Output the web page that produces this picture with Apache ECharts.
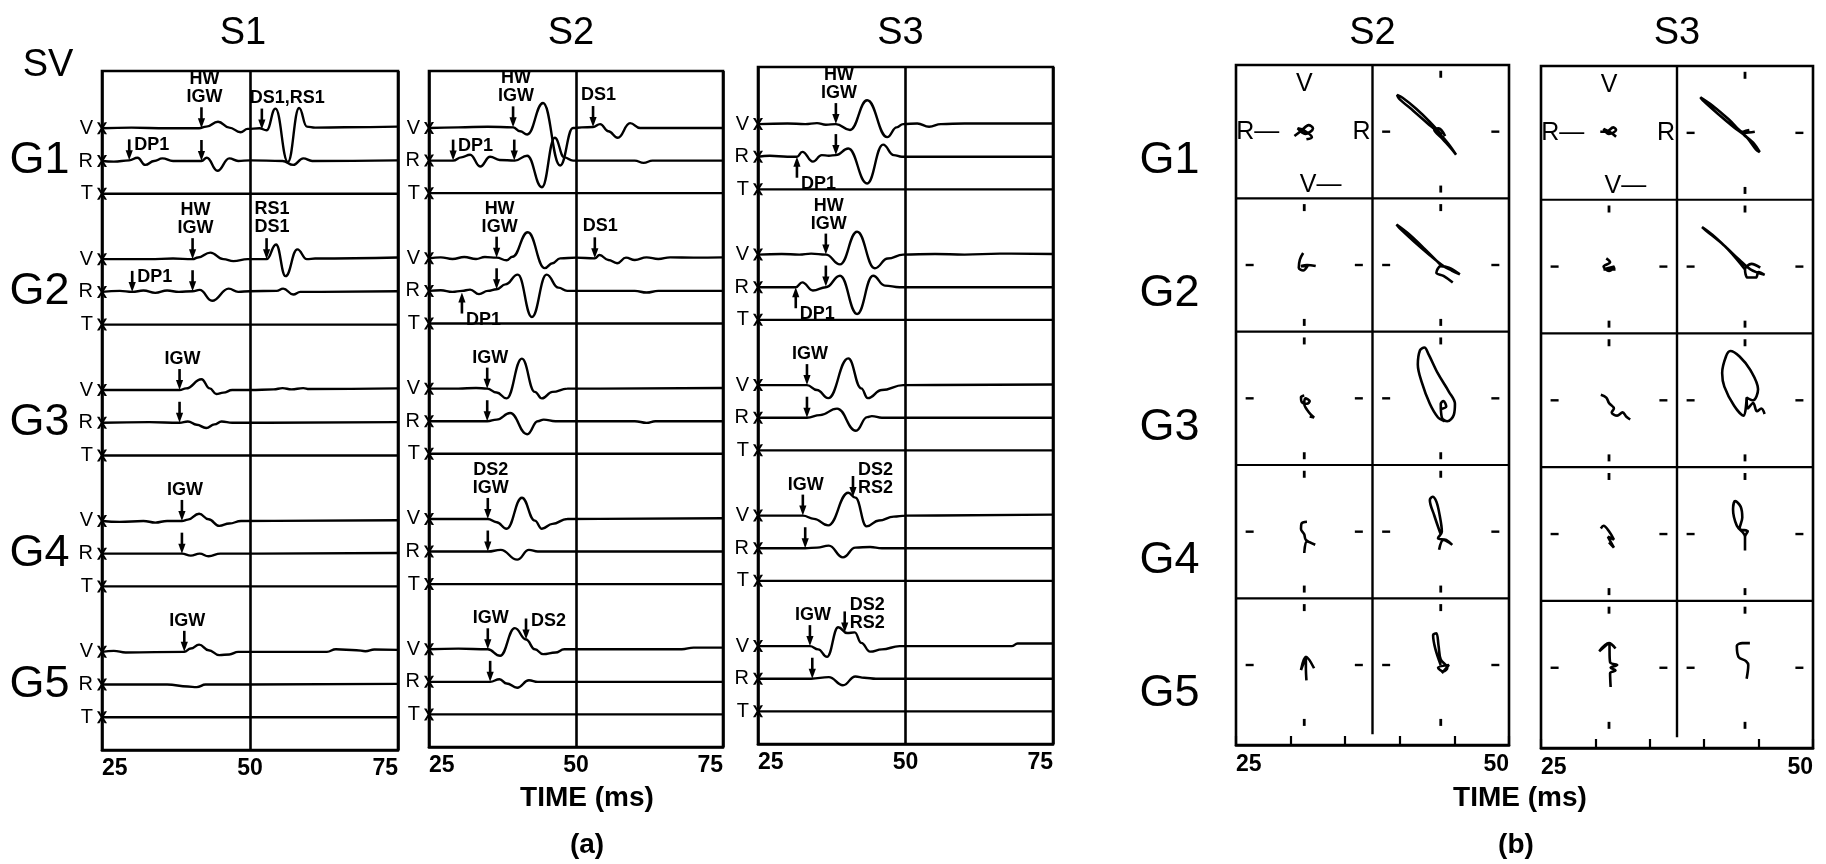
<!DOCTYPE html>
<html><head><meta charset="utf-8">
<script src="https://cdn.jsdelivr.net/npm/echarts@6/dist/echarts.min.js"></script>
<style>html,body{margin:0;padding:0;background:#fff}#c{width:1826px;height:864px}</style>
</head><body><div id="c"></div>
<script>
// ---------------- DATA ----------------
const shotsA = ['S1', 'S2', 'S3'];
const shotsB = ['S2', 'S3'];
const gauges = ['G1', 'G2', 'G3', 'G4', 'G5'];
const comps = ['V', 'R', 'T'];
const timeTicksA = [25, 50, 75];
const timeTicksB = [25, 30, 35, 40, 45, 50];
const timeLabelsB = [25, 50];

// Seismograms: [time (ms), amplitude in trace spacings]
const S1_G1_V = [[25,0],[30,0.02],[36,0],[41.4,0],[42.6,0.05],[44.6,0.2],[46.5,0.02],[48.4,-0.12],[49.6,-0.02],[51.6,0],[52.8,-0.06],[54.3,0.6],[56.4,-1.03],[58.3,0.62],[59.6,0.05],[61,0.02],[66,0.03],[75,0.05]];
const S1_G1_R = [[25,0],[27,-0.02],[29.6,0.02],[31,0.1],[32.3,-0.12],[33.8,0],[35.2,0.08],[37,0],[41.8,0],[42.7,0.1],[44.5,-0.3],[46.5,0.08],[48,0],[50,0.02],[55.5,0],[57.3,-0.12],[59,0.08],[60.5,0],[75,0.02]];
const S1_G1_T = [[25,0],[75,0]];
const S1_G2_V = [[25,0],[33,0],[37,0.02],[40.3,0],[41.2,0.05],[43.3,0.2],[45.5,0],[47.2,-0.06],[49.6,0],[52.8,0],[54.4,0.45],[56,-0.52],[58,0.3],[59.6,0],[61,0.02],[75,0.05]];
const S1_G2_R = [[25,0],[28,0.03],[30.1,0],[32,0.04],[34,-0.03],[36,0.04],[38,0],[40.3,0.02],[41.5,0.06],[43.6,-0.27],[46.4,0.1],[48,0],[50,0.02],[54.5,0.03],[55.6,0.1],[57.3,-0.08],[58.5,0],[75,0.02]];
const S1_G2_T = [[25,0],[75,0]];
const S1_G3_V = [[25,0],[35,0],[38.1,0],[39.2,0.05],[41.8,0.33],[43.2,0.05],[44.3,-0.12],[45.5,-0.08],[47,0],[50,0],[54,0.02],[55.5,0.06],[57,0.02],[59,0.06],[60,0.03],[75,0.05]];
const S1_G3_R = [[25,0],[33,0.02],[38.1,0],[39.5,0.04],[41,-0.06],[42.6,-0.16],[44,-0.05],[45.2,0.04],[47,0],[75,0.02]];
const S1_G3_T = [[25,0],[75,0]];
const S1_G4_V = [[25,0],[28,-0.03],[32,0],[34,-0.05],[36,0],[38.5,0],[39.5,0.04],[41.4,0.22],[43,0.05],[44.8,-0.15],[46.5,-0.08],[48.5,0],[75,0.02]];
const S1_G4_R = [[25,0],[35,0],[38.5,0],[40,-0.06],[41.5,0],[43,-0.08],[45,0],[75,0.02]];
const S1_G4_T = [[25,0],[75,0]];
const S1_G5_V = [[25,0],[27,0.03],[29,-0.02],[38.9,0],[40,0.1],[41.4,0.22],[43,0.05],[44.8,-0.1],[46.5,-0.08],[48,0],[63,0],[64.5,0.08],[68,0.05],[69.5,0.02],[71,0.07],[75,0.06]];
const S1_G5_R = [[25,0],[36,0],[39.5,-0.06],[41,-0.08],[42.5,0],[75,0.02]];
const S1_G5_T = [[25,0],[75,0]];

const S2_G1_V = [[25,0],[30,0.02],[35,0.04],[39.3,0.02],[40.5,-0.1],[41.7,-0.2],[44.4,0.77],[47.3,-1.15],[49.5,0],[51,0.02],[52.9,0.03],[54.1,0.12],[55.5,-0.1],[57.1,-0.3],[59.2,0.15],[60.9,0],[75,0]];
const S2_G1_R = [[25,0],[27.5,0],[29.1,0],[30.5,0.1],[32,0.18],[33.7,-0.18],[35.4,0.12],[37,0.02],[39.6,0],[41.7,0.15],[44.2,-0.82],[46.4,0.7],[48,0.1],[49.5,0],[60,0],[61.5,-0.07],[63,0],[75,0]];
const S2_G1_T = [[25,0],[75,0]];
const S2_G2_V = [[25,0],[27,0.03],[29,-0.02],[31,0.04],[33,-0.02],[34.5,0.04],[36.5,0.02],[38.2,-0.06],[39.2,0.05],[41.8,0.8],[44.7,-0.3],[46,-0.15],[47.3,0],[50,0.02],[53.2,0],[54,0.1],[55.5,-0.05],[57,-0.15],[58.5,0.02],[60,-0.05],[62,0.03],[64,-0.02],[66,0.03],[70,0.02],[75,0.03]];
const S2_G2_R = [[25,0],[27,0.02],[29,-0.03],[30.6,0],[32,0.04],[33.5,-0.1],[35,0],[36.5,0.05],[38,0.2],[40.1,0.5],[42.5,-0.8],[45,0.5],[47,0.1],[48.5,0],[60,0],[62,-0.05],[64,0],[75,0]];
const S2_G2_T = [[25,0],[75,0]];
const S2_G3_V = [[25,0],[30,0],[33,0.02],[34.9,0],[36.5,-0.12],[38.2,-0.3],[40.8,0.92],[43,-0.1],[44.2,-0.3],[46,-0.1],[48.5,0],[75,0.02]];
const S2_G3_R = [[25,0],[34.9,0],[36.5,0.05],[38.8,0.25],[41.7,-0.4],[43.5,0],[44.5,0.05],[46.5,0],[60,0],[62,-0.05],[63.5,0],[75,0]];
const S2_G3_T = [[25,0],[75,0]];
const S2_G4_V = [[25,0],[30,0],[35,0],[36.5,-0.1],[38.2,-0.3],[40.8,0.65],[43,-0.05],[44.2,-0.3],[46,-0.15],[48.5,0],[75,0.02]];
const S2_G4_R = [[25,0],[35,0],[37.2,0.05],[40,-0.25],[42,0.05],[43.5,0],[75,0]];
const S2_G4_T = [[25,0],[75,0]];
const S2_G5_V = [[25,0],[30,0.02],[35,0],[37.1,-0.2],[39.6,0.65],[41.5,0.3],[43,0],[44.4,-0.15],[46.5,-0.1],[48,0],[68,0],[70,0.05],[75,0.05]];
const S2_G5_R = [[25,0],[35.4,0],[37,0.08],[38.2,-0.05],[40,-0.18],[42,0.05],[43.5,0],[75,0]];
const S2_G5_T = [[25,0],[75,0]];

const S3_G1_V = [[25,0],[30,0.02],[33,0],[35,0.03],[36.5,-0.02],[38.2,0],[40.6,-0.18],[43.5,0.73],[46.9,-0.4],[48.5,-0.1],[49.6,0],[52,0.02],[54,-0.08],[56,0],[60,0.02],[75,0.02]];
const S3_G1_R = [[25,0],[27,0.03],[30,0],[31.6,0],[32.5,0.15],[34.3,-0.15],[35.8,0.05],[37,0.03],[38.2,0.05],[40.3,0.25],[43.5,-0.82],[46.2,0.37],[48,0.05],[49.4,0],[75,0]];
const S3_G1_T = [[25,0],[75,0]];
const S3_G2_V = [[25,0],[29,0.02],[32,0],[34,0.03],[36.5,0],[38.9,-0.3],[41.8,0.7],[44.8,-0.42],[47,-0.12],[49.6,0],[55,0.02],[60,0],[66,0.03],[75,0.02]];
const S3_G2_R = [[25,0],[28,0],[31.4,0],[32.5,0.15],[34.3,-0.1],[36.5,0],[38.9,0.35],[41.8,-0.82],[44.5,0.35],[46.5,0.05],[49,0],[75,0]];
const S3_G2_T = [[25,0],[75,0]];
const S3_G3_V = [[25,0],[30,0],[33.3,0],[35,-0.15],[36.9,-0.4],[40.3,0.82],[42.5,-0.1],[43.6,-0.4],[46,-0.15],[49.6,0],[75,0.02]];
const S3_G3_R = [[25,0],[33.3,0],[35.5,0.08],[38.4,0.28],[41.6,-0.4],[43.5,0.02],[44.3,0.05],[46,0],[75,0]];
const S3_G3_T = [[25,0],[75,0]];
const S3_G4_V = [[25,0],[29,0],[32.6,0],[34.5,-0.1],[36.9,-0.3],[40.3,0.7],[41.5,0.55],[43.4,-0.33],[45.5,-0.15],[48,-0.03],[50,0],[75,0.03]];
const S3_G4_R = [[25,0],[33,0],[35,0.02],[37,0.08],[39.4,-0.28],[41.5,0.02],[44,0.04],[46,0],[75,0]];
const S3_G4_T = [[25,0],[75,0]];
const S3_G5_V = [[25,0],[30,0],[33.8,0],[35.2,-0.1],[36.7,-0.33],[38.6,0.58],[40.1,0.4],[41.4,0.42],[42.5,0.1],[44,-0.17],[46,-0.1],[49,0],[68,0],[69,0.08],[75,0.08]];
const S3_G5_R = [[25,0],[34,0],[37,0.05],[39.4,-0.2],[41.5,0.07],[43,0.03],[45,0],[75,0]];
const S3_G5_T = [[25,0],[75,0]];

// Arrival picks: [shot, gauge, component, time ms, trace value at tip, label, label placement]
const picksS1 = [
  [0,0,0,41.8,0.0,'HW\nIGW','top'],[0,0,0,52.0,-0.04,'DS1,RS1','topright'],
  [0,0,1,29.6,0.02,'DP1','right'],[0,0,1,41.8,0.0,'',''],
  [0,1,0,40.3,0.0,'HW\nIGW','top'],[0,1,0,52.8,0.0,'RS1\nDS1','topright'],
  [0,1,1,30.1,0.0,'DP1','right'],[0,1,1,40.3,0.02,'',''],
  [0,2,0,38.1,0.0,'IGW','top'],[0,2,1,38.1,0.0,'',''],
  [0,3,0,38.5,0.0,'IGW','top'],[0,3,1,38.5,0.0,'',''],
  [0,4,0,38.9,0.0,'IGW','top']
];
const picksS2 = [
  [1,0,0,39.3,0.02,'HW\nIGW','top'],[1,0,0,52.9,0.03,'DS1','topright'],
  [1,0,1,29.1,0.0,'DP1','right'],[1,0,1,39.5,0.0,'',''],
  [1,1,0,36.5,0.02,'HW\nIGW','top'],[1,1,0,53.2,0.0,'DS1','topright'],
  [1,1,1,36.5,0.05,'',''],[1,1,1,30.6,-0.05,'DP1','upright'],
  [1,2,0,34.9,0.0,'IGW','top'],[1,2,1,34.9,0.0,'',''],
  [1,3,0,35.0,0.0,'DS2\nIGW','top'],[1,3,1,35.0,0.0,'',''],
  [1,4,0,35.0,0.0,'IGW','top'],[1,4,0,41.5,0.3,'DS2','rightmid'],[1,4,1,35.4,0.0,'','']
];
const picksS3 = [
  [2,0,0,38.2,0.0,'HW\nIGW','top'],[2,0,1,38.2,0.05,'',''],[2,0,1,31.6,0.0,'DP1','upright'],
  [2,1,0,36.5,0.0,'HW\nIGW','top'],[2,1,1,36.5,0.02,'',''],[2,1,1,31.4,0.0,'DP1','upright'],
  [2,2,0,33.3,0.0,'IGW','top'],[2,2,1,33.3,0.0,'',''],
  [2,3,0,32.6,0.0,'IGW','top'],[2,3,0,41.1,0.57,'DS2\nRS2','rightmid'],[2,3,1,33.0,0.0,'',''],
  [2,4,0,33.8,0.0,'IGW','top'],[2,4,0,39.7,0.42,'DS2\nRS2','rightmid'],[2,4,1,34.2,0.0,'','']
];

// Hodograms (R horizontal, V vertical), unit = distance of the cell's tick marks
const HS2_G1_L = [[-0.18,-0.08],[-0.05,0.02],[0.08,0.12],[0.16,0.06],[0.02,-0.04],[-0.12,0.06],[0,0.02],[0.14,-0.1],[0.04,-0.14]];
const HS2_G1_R = [[0.02,-0.06],[-0.2,0.18],[-0.45,0.42],[-0.7,0.62],[-0.8,0.67],[-0.76,0.6],[-0.5,0.38],[-0.25,0.16],[-0.02,-0.04],[0.14,-0.22],[0.28,-0.42],[0.2,-0.32],[0.04,-0.14],[-0.12,0.04],[-0.04,0.06],[0.08,-0.08]];
const HS2_G2_L = [[-0.02,0.22],[-0.08,0.1],[-0.1,-0.05],[-0.02,-0.1],[0.06,-0.02],[-0.06,-0.02],[0.05,0],[0.21,-0.02]];
const HS2_G2_R = [[0,0],[-0.3,0.3],[-0.6,0.58],[-0.81,0.74],[-0.76,0.68],[-0.5,0.44],[-0.2,0.18],[0.05,-0.02],[0.2,-0.1],[0.35,-0.17],[0.15,-0.05],[0,-0.02],[-0.08,-0.14],[0.05,-0.2],[0.22,-0.32]];
const HS2_G3_L = [[0,0.05],[-0.06,0.02],[-0.05,-0.06],[0.05,-0.1],[0.1,-0.05],[0.02,0],[0,-0.1],[0.08,-0.25],[0.18,-0.35],[0.1,-0.33]];
const HS2_G3_R = [[0.07,-0.42],[-0.05,-0.35],[-0.2,-0.1],[-0.35,0.3],[-0.42,0.62],[-0.38,0.88],[-0.3,0.93],[-0.22,0.8],[-0.05,0.45],[0.15,0.12],[0.26,-0.1],[0.24,-0.3],[0.12,-0.42],[0.02,-0.35],[0,-0.1],[0.05,-0.05],[0.1,-0.15],[-0.02,-0.2]];
const HS2_G4_L = [[0.05,0.18],[-0.05,0.15],[-0.06,0.05],[0,-0.05],[0.03,-0.15],[0.2,-0.24],[0.05,-0.18],[0,-0.39]];
const HS2_G4_R = [[0,-0.05],[-0.12,0.3],[-0.2,0.58],[-0.15,0.64],[-0.08,0.55],[-0.02,0.3],[0.02,0],[-0.05,-0.12],[0.1,-0.15],[0.21,-0.24],[0.05,-0.15],[-0.03,-0.33]];
const HS2_G5_L = [[0.04,-0.28],[0.03,-0.05],[0.03,0.15],[-0.06,-0.09],[0.03,0.15],[0.18,-0.06]];
const HS2_G5_R = [[0,0],[-0.1,0.3],[-0.14,0.55],[-0.08,0.58],[-0.04,0.35],[0,0.1],[0.12,-0.05],[0.05,-0.12],[-0.05,-0.05],[0.15,0],[0.02,-0.15]];
const HS3_G1_L = [[-0.16,0.02],[-0.05,0.02],[0.08,0.1],[0.13,0.05],[0,-0.02],[-0.1,0.07],[0.04,0],[0.13,-0.07]];
const HS3_G1_R = [[0.18,0.02],[0,0],[-0.3,0.25],[-0.6,0.5],[-0.82,0.65],[-0.78,0.6],[-0.5,0.35],[-0.2,0.1],[0,-0.05],[0.15,-0.18],[0.27,-0.35],[0.2,-0.3],[0.05,-0.1],[-0.05,0],[0.08,0.05]];
const HS3_G2_L = [[-0.05,0.15],[0.02,0.08],[-0.1,0],[0,-0.08],[0.1,0],[-0.1,-0.05],[0.12,-0.05]];
const HS3_G2_R = [[0,-0.05],[-0.3,0.3],[-0.6,0.58],[-0.79,0.72],[-0.72,0.66],[-0.4,0.4],[-0.1,0.12],[0.1,-0.05],[0.36,-0.15],[0.25,-0.1],[0.2,-0.2],[0.05,-0.2],[0,-0.05],[0.12,0.05],[0.28,-0.02]];
const HS3_G3_L = [[-0.15,0.1],[-0.05,0.05],[0,-0.05],[0.09,-0.15],[0.05,-0.22],[0.15,-0.28],[0.25,-0.22],[0.32,-0.3],[0.39,-0.35]];
const HS3_G3_R = [[0.03,0.05],[-0.03,-0.28],[-0.2,-0.1],[-0.38,0.25],[-0.42,0.5],[-0.35,0.8],[-0.27,0.9],[-0.1,0.8],[0.1,0.55],[0.24,0.2],[0.15,0],[0.03,0.05],[0.05,-0.15],[0.15,-0.05],[0.22,-0.2],[0.3,-0.15],[0.36,-0.25]];
const HS3_G4_L = [[-0.15,0.1],[-0.1,0.15],[0,0.05],[0.09,-0.1],[-0.02,-0.05],[0.09,-0.25],[0,-0.15]];
const HS3_G4_R = [[0,-0.3],[0,-0.05],[-0.15,0.15],[-0.22,0.45],[-0.18,0.6],[-0.08,0.5],[-0.05,0.3],[-0.1,0.1],[0.05,0.05],[0,-0.05],[0,-0.3]];
const HS3_G5_L = [[0.03,-0.35],[0.02,-0.1],[0.12,-0.05],[0.03,0],[0.15,0.05],[0.02,0.1],[0,0.45],[-0.18,0.3],[0,0.45],[0.12,0.35]];
const HS3_G5_R = [[0.09,0.45],[-0.05,0.45],[-0.15,0.4],[-0.12,0.2],[0.02,0.12],[0.06,0.05],[0.03,-0.2]];

// ---------------- BUILD ----------------
const TRACES = [
  [[S1_G1_V,S1_G1_R,S1_G1_T],[S1_G2_V,S1_G2_R,S1_G2_T],[S1_G3_V,S1_G3_R,S1_G3_T],[S1_G4_V,S1_G4_R,S1_G4_T],[S1_G5_V,S1_G5_R,S1_G5_T]],
  [[S2_G1_V,S2_G1_R,S2_G1_T],[S2_G2_V,S2_G2_R,S2_G2_T],[S2_G3_V,S2_G3_R,S2_G3_T],[S2_G4_V,S2_G4_R,S2_G4_T],[S2_G5_V,S2_G5_R,S2_G5_T]],
  [[S3_G1_V,S3_G1_R,S3_G1_T],[S3_G2_V,S3_G2_R,S3_G2_T],[S3_G3_V,S3_G3_R,S3_G3_T],[S3_G4_V,S3_G4_R,S3_G4_T],[S3_G5_V,S3_G5_R,S3_G5_T]]
];
const HODO = [
  [[HS2_G1_L,HS2_G1_R],[HS2_G2_L,HS2_G2_R],[HS2_G3_L,HS2_G3_R],[HS2_G4_L,HS2_G4_R],[HS2_G5_L,HS2_G5_R]],
  [[HS3_G1_L,HS3_G1_R],[HS3_G2_L,HS3_G2_R],[HS3_G3_L,HS3_G3_R],[HS3_G4_L,HS3_G4_R],[HS3_G5_L,HS3_G5_R]]
];
const PICKS = [picksS1, picksS2, picksS3];

const FONT = "'Liberation Sans', Arial, Helvetica, sans-serif";
const INK = '#000';
const base = (g, c) => -(1.75 + 4 * g + c);      // trace baseline in panel (a)
const cellX = [31.25, 43.75];                        // hodogram cell centres (ms)
const cellY = g => -(g + 0.5);                       // hodogram row centres
const HX = 5, HY = 0.41;                             // hodogram unit in axis units

const gridA = [
  {left:102, top:71, width:296, height:679},
  {left:429, top:71, width:294, height:676},
  {left:758, top:67, width:295, height:677}
];
const gridB = [
  {left:1236, top:65, width:273, height:680},
  {left:1541, top:66, width:272, height:682}
];
const grids = gridA.concat(gridB).map(g => Object.assign({show:true, borderColor:INK, borderWidth:2.6, backgroundColor:'transparent', containLabel:false}, g));

const labelFont = {color:INK, fontFamily:FONT, fontWeight:'bold', fontSize:23};
const xAxes = [], yAxes = [];
gridA.forEach((g, i) => {
  xAxes.push({type:'value', gridIndex:i, position:'bottom', min:timeTicksA[0], max:timeTicksA[2], interval:timeTicksA[1]-timeTicksA[0],
    axisLine:{show:true, onZero:false, lineStyle:{color:INK, width:2.6}}, axisTick:{show:false},
    splitLine:{show:true, lineStyle:{color:INK, width:2.6}},
    axisLabel:Object.assign({margin:7, alignMinLabel:'left', alignMaxLabel:'right'}, labelFont)});
  yAxes.push({type:'value', gridIndex:i, min:-20.75, max:0, show:false});
});
gridB.forEach((g, j) => {
  xAxes.push({type:'value', gridIndex:3+j, position:'bottom', min:timeTicksB[0], max:timeTicksB[timeTicksB.length-1], interval:timeTicksB[1]-timeTicksB[0],
    axisLine:{show:true, onZero:false, lineStyle:{color:INK, width:2.6}},
    axisTick:{show:true, inside:true, length:9, lineStyle:{color:INK, width:2.2}},
    splitLine:{show:false},
    axisLabel:Object.assign({margin:8, alignMinLabel:'left', alignMaxLabel:'right',
      formatter: v => timeLabelsB.indexOf(v) >= 0 ? String(v) : ''}, labelFont)});
  yAxes.push({type:'value', gridIndex:3+j, min:-5.1, max:0, show:false});
});

const series = [];
const lineBase = {type:'line', symbol:'none', silent:true, animation:false, smooth:0.45, smoothMonotone:'x', z:3,
  lineStyle:{color:INK, width:2.4}};
const hidden = {color:'rgba(0,0,0,0)', opacity:1};
const txtLabel = (size, extra) => Object.assign({show:true, formatter:p => p.name, color:INK, opacity:1, fontFamily:FONT, fontSize:size}, extra);

// Panel (a) traces
TRACES.forEach((shot, s) => shot.forEach((gauge, g) => gauge.forEach((tr, c) => {
  series.push(Object.assign({}, lineBase, {xAxisIndex:s, yAxisIndex:s,
    data: tr.map(p => [p[0], base(g, c) + p[1]])}));
})));

// Panel (a) start markers + component labels
const XSYM = 'path://M0,0L2.4,0L5,4L7.6,0L10,0L6.3,5.5L10,11L7.6,11L5,7L2.4,11L0,11L3.7,5.5Z';
shotsA.forEach((name, s) => {
  const pts = [];
  gauges.forEach((gn, g) => comps.forEach((cn, c) => pts.push({value:[timeTicksA[0], base(g, c)], name:cn})));
  series.push({type:'scatter', xAxisIndex:s, yAxisIndex:s, data:pts, symbol:XSYM, symbolSize:[10, 12],
    itemStyle:{color:INK, opacity:1}, clip:false, silent:true, animation:false, z:6,
    label:txtLabel(20, {position:'left', distance:4})});
});
// Gauge labels on the left of panel (a)
series.push({type:'scatter', xAxisIndex:0, yAxisIndex:0, symbol:'circle', symbolSize:1, itemStyle:hidden,
  data: gauges.map((gn, g) => ({value:[timeTicksA[0], base(g, 1)], name:gn})), clip:false, silent:true, animation:false,
  label:txtLabel(45, {position:'left', distance:32})});

// Arrival arrows
PICKS.forEach((list, s) => {
  series.push({type:'custom', xAxisIndex:s, yAxisIndex:s, clip:false, silent:true, animation:false, z:7,
    data: list.map(a => [a[3], base(a[1], a[2]) + a[4]]),
    renderItem: (params, api) => {
      const a = list[params.dataIndex];
      const tip = api.coord([api.value(0), api.value(1)]);
      const tx = tip[0], ty = tip[1];
      const up = a[6] === 'upright';
      const L = 21, hh = 10, hw = 3.6;
      const d = up ? -1 : 1;
      const tail = ty - d * L;
      const ch = [
        {type:'line', shape:{x1:tx, y1:tail, x2:tx, y2:ty - d * hh * 0.7}, style:{stroke:INK, lineWidth:2.6}},
        {type:'polygon', shape:{points:[[tx - hw, ty - d * hh], [tx + hw, ty - d * hh], [tx, ty]]}, style:{fill:INK}}
      ];
      if (a[5]) {
        let x, y, al, va;
        if (a[6] === 'top') { x = tx + 3; y = tail - 1; al = 'center'; va = 'bottom'; }
        else if (a[6] === 'topright') { x = tx - 12; y = tail - 2; al = 'left'; va = 'bottom'; }
        else if (a[6] === 'right') { x = tx + 5; y = tail + 6; al = 'left'; va = 'middle'; }
        else if (a[6] === 'rightmid') { x = tx + 5; y = tail + 3; al = 'left'; va = 'middle'; }
        else { x = tx + 4; y = tail + 6; al = 'left'; va = 'middle'; }
        ch.push({type:'text', style:{text:a[5], x:x, y:y, fill:INK, font:'bold 18px ' + FONT,
          align:al, verticalAlign:va, textAlign:al, textVerticalAlign:va, lineHeight:18}});
      }
      return {type:'group', children:ch};
    }});
});

// Panel (b): frame lines, dashes, hodograms
const rowBounds = [-1, -2, -3, -4];
const divider = 37.5;
shotsB.forEach((name, j) => {
  const ax = 3 + j;
  rowBounds.forEach(y => series.push({type:'line', xAxisIndex:ax, yAxisIndex:ax, symbol:'none', silent:true, animation:false,
    data:[[timeTicksB[0], y], [timeTicksB[timeTicksB.length-1], y]], lineStyle:{color:INK, width:2.2}}));
  series.push({type:'line', xAxisIndex:ax, yAxisIndex:ax, symbol:'none', silent:true, animation:false,
    data:[[divider, -5.02], [divider, 0]], lineStyle:{color:INK, width:2.4}});
  const vd = [], hd = [];
  gauges.forEach((gn, g) => cellX.forEach((cx, k) => {
    if (g === 0 && k === 0) return;
    vd.push([cx, cellY(g) + 1.05 * HY], [cx, cellY(g) - 1.05 * HY]);
    hd.push([cx - HX, cellY(g)], [cx + HX, cellY(g)]);
  }));
  series.push({type:'scatter', xAxisIndex:ax, yAxisIndex:ax, data:vd, symbol:'rect', symbolSize:[2.8, 7], itemStyle:{color:INK, opacity:1}, silent:true, animation:false});
  series.push({type:'scatter', xAxisIndex:ax, yAxisIndex:ax, data:hd, symbol:'rect', symbolSize:[8, 2.4], itemStyle:{color:INK, opacity:1}, silent:true, animation:false});
  // axis naming marks in the G1 left cell
  const cx0 = cellX[0], cy0 = cellY(0);
  series.push({type:'scatter', xAxisIndex:ax, yAxisIndex:ax, symbol:'circle', symbolSize:1, itemStyle:hidden,
    silent:true, animation:false, clip:false,
    data:[{value:[cx0, cy0 + 0.87 * HY], name:'V'}, {value:[cx0 + 0.3 * HX, cy0 - 0.98 * HY], name:'V—'},
          {value:[cx0 - 0.85 * HX, cy0], name:'R—'}, {value:[cx0 + 1.05 * HX, cy0], name:'R'}],
    label:txtLabel(25, {position:'inside'})});
  HODO[j].forEach((cells, g) => cells.forEach((h, k) => {
    series.push(Object.assign({}, lineBase, {xAxisIndex:ax, yAxisIndex:ax, smooth:0.35, smoothMonotone:null,
      lineStyle:{color:INK, width:2.6},
      data: h.map(p => [cellX[k] + p[0] * HX, cellY(g) + p[1] * HY])}));
  }));
});
// Gauge labels on the left of panel (b)
series.push({type:'scatter', xAxisIndex:3, yAxisIndex:3, symbol:'circle', symbolSize:1, itemStyle:hidden,
  data: gauges.map((gn, g) => ({value:[timeTicksB[0], cellY(g)], name:gn})), clip:false, silent:true, animation:false,
  label:txtLabel(45, {position:'left', distance:36, offset:[0, 29]})});

// Titles and captions
const txt = (text, x, y, font) => ({type:'text', x:x, y:y, silent:true,
  style:{text:text, font:font, fill:INK, align:'center', verticalAlign:'middle', textAlign:'center', textVerticalAlign:'middle'}});
const titleFont = '38px ' + FONT;
const captionFont = 'bold 28px ' + FONT;
const graphics = [
  txt('SV', 48, 66, titleFont),
  txt(shotsA[0], gridA[0].left + gridA[0].width / 2 - 7, 34, titleFont),
  txt(shotsA[1], gridA[1].left + gridA[1].width / 2 - 5, 34, titleFont),
  txt(shotsA[2], gridA[2].left + gridA[2].width / 2 - 5, 34, titleFont),
  txt(shotsB[0], gridB[0].left + gridB[0].width / 2, 34, titleFont),
  txt(shotsB[1], gridB[1].left + gridB[1].width / 2, 34, titleFont),
  txt('TIME (ms)', 587, 798, captionFont),
  txt('(a)', 587, 845, captionFont),
  txt('TIME (ms)', 1520, 798, captionFont),
  txt('(b)', 1516, 845, captionFont)
];

const chart = echarts.init(document.getElementById('c'), null, {renderer:'canvas'});
chart.setOption({
  animation:false,
  backgroundColor:'#fff',
  grid:grids, xAxis:xAxes, yAxis:yAxes, series:series,
  graphic:{elements:graphics}
});
</script>
</body></html>
